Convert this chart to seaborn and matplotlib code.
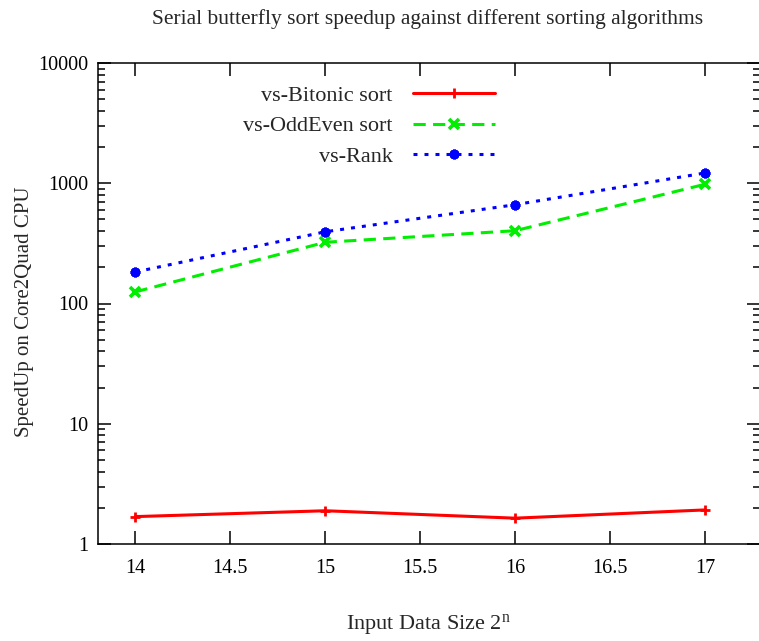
import matplotlib
matplotlib.use("Agg")
import matplotlib.pyplot as plt
import matplotlib.ticker as mticker
import seaborn as sns
import pandas as pd

# Speedup of serial butterfly sort over each algorithm, per input size 2^n
sizes_n = [14, 15, 16, 17]
vs_bitonic = [1.69, 1.89, 1.64, 1.92]
vs_oddeven = [125, 323, 403, 980]
vs_rank = [183, 395, 663, 1217]

series_names = ["vs-Bitonic sort", "vs-OddEven sort", "vs-Rank"]
series_values = [vs_bitonic, vs_oddeven, vs_rank]

x_ticks = [14, 14.5, 15, 15.5, 16, 16.5, 17]
y_ticks = [1, 10, 100, 1000, 10000]

sns.set_theme(style="ticks")
plt.rcParams["font.family"] = ["Liberation Serif", "DejaVu Serif"]
plt.rcParams["mathtext.fontset"] = "custom"
plt.rcParams["mathtext.rm"] = "Liberation Serif"
plt.rcParams["mathtext.it"] = "Liberation Serif:italic"

W, H = 759, 641
fig = plt.figure(figsize=(W / 100, H / 100), dpi=100)
left_px, right_px, top_px, bottom_px = 97.5, 760.0, 63.0, 544.0
ax = fig.add_axes([left_px / W, 1 - bottom_px / H,
                   (right_px - left_px) / W, (bottom_px - top_px) / H])

styles = [
    dict(color="#ff0000", marker="+", ms=7, mew=2.0, dashes=None),
    dict(color="#00ee00", marker="x", ms=7, mew=2.6, dashes=(4.0, 2.4)),
    dict(color="#0000ff", marker=(8, 2, 0), ms=7, mew=2.2, dashes=(1.3, 2.3)),
]

for name, vals, st in zip(series_names, series_values, styles):
    df = pd.DataFrame({"n": sizes_n, "speedup": vals})
    sns.lineplot(data=df, x="n", y="speedup", ax=ax, color=st["color"],
                 marker=st["marker"], markersize=st["ms"],
                 markeredgewidth=st["mew"], markeredgecolor=st["color"],
                 linewidth=2.2, label=name)
    line = ax.lines[-1]
    if st["dashes"] is not None:
        line.set_dashes(st["dashes"])
        line.set_dash_capstyle("butt")

ax.set_yscale("log")
ax.set_xlim(13.8, 17.29)
ax.set_ylim(1, 10000)
ax.set_xticks(x_ticks)
ax.set_xticklabels([f"{t:g}" for t in x_ticks])
ax.set_yticks(y_ticks)
ax.yaxis.set_major_formatter(mticker.FuncFormatter(lambda v, p: f"{v:.0f}"))
ax.yaxis.set_minor_locator(mticker.LogLocator(base=10, subs=range(2, 10)))
ax.yaxis.set_minor_formatter(mticker.NullFormatter())
ax.xaxis.set_minor_locator(mticker.NullLocator())

ax.tick_params(which="both", direction="in", top=True, right=True,
               labelsize=14.5, colors="black", width=1.1)
ax.tick_params(which="major", length=9.5)
ax.tick_params(axis="y", which="major", pad=6.5)
ax.tick_params(axis="x", which="major", pad=10.5)
ax.tick_params(which="minor", length=4.8)
for sp in ax.spines.values():
    sp.set_linewidth(1.1)
    sp.set_color("black")

ax.set_xlabel("Input Data Size 2$^{\\mathregular{n}}$", fontsize=16, labelpad=25)
ax.set_ylabel("SpeedUp on Core2Quad CPU", fontsize=15, labelpad=3)
ax.yaxis.label.set_y(0.482)
ax.set_title("Serial butterfly sort speedup against different sorting algorithms",
             fontsize=15.5, pad=28, x=(427.5 - left_px) / (right_px - left_px))

leg = ax.legend(loc="upper right", bbox_to_anchor=((495 - left_px) / (right_px - left_px), 0.953),
                frameon=False, markerfirst=False, fontsize=16, handlelength=3.7,
                handletextpad=0.9, labelspacing=0.44, borderpad=0,
                borderaxespad=0)

fig.savefig("out.png", dpi=100)
